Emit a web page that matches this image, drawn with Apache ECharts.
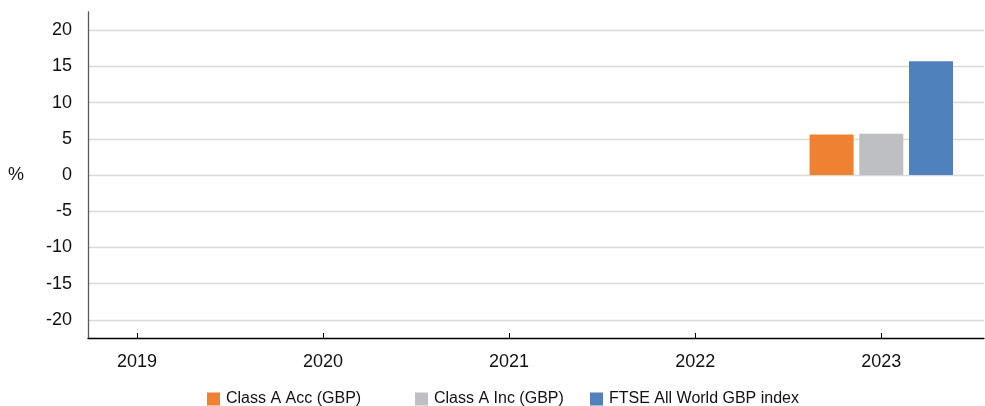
<!DOCTYPE html>
<html>
<head>
<meta charset="utf-8">
<script src="https://cdn.jsdelivr.net/npm/echarts@6/dist/echarts.min.js"></script>
<style>
  html, body { margin: 0; padding: 0; background: #ffffff; }
  #chart { width: 985px; height: 406px; }
</style>
</head>
<body>
<div id="chart"></div>
<script>
// Calendar years on the horizontal axis
const years = [2019, 2020, 2021, 2022, 2023];
// Annual performance, % (no figures before 2023)
const classAAcc = [null, null, null, null, 5.6];
const classAInc = [null, null, null, null, 5.7];
const ftseAllWorld = [null, null, null, null, 15.7];
// Tick labels on the percentage axis
const yTicks = [-20, -15, -10, -5, 0, 5, 10, 15, 20];

const seriesNames = ['Class A Acc (GBP)', 'Class A Inc (GBP)', 'FTSE All World GBP index'];
const seriesColors = ['#EF8231', '#BEBFC2', '#4F81BD'];
const seriesValues = [classAAcc, classAInc, ftseAllWorld];

const font = '"Liberation Sans", Arial, sans-serif';
const textColor = '#111111';

// one legend entry per series, laid out at its own column
const legendLeft = [207, 415, 590];

const chart = echarts.init(document.getElementById('chart'), null, { renderer: 'canvas' });

chart.setOption({
  animation: false,
  backgroundColor: '#ffffff',
  grid: { left: 88, right: 1, top: 12, bottom: 68, containLabel: false },
  legend: seriesNames.map((name, i) => ({
    top: 391,
    left: legendLeft[i],
    padding: 0,
    itemWidth: 13,
    itemHeight: 13,
    itemGap: 6,
    icon: 'rect',
    textStyle: { fontFamily: font, fontSize: 16, color: textColor, padding: [0, 0, 0, 1] },
    data: [name]
  })),
  xAxis: {
    type: 'value',
    min: years[0] - 0.263,
    max: years[years.length - 1] + 0.552,
    axisLine: { show: true, onZero: false, lineStyle: { color: '#000000', width: 1.3 } },
    axisTick: { show: true, inside: true, length: 5, customValues: years, lineStyle: { color: '#000000' } },
    axisLabel: {
      customValues: years,
      margin: 15,
      fontFamily: font, fontSize: 18, color: textColor,
      formatter: v => String(Math.round(v))
    },
    splitLine: { show: false }
  },
  yAxis: {
    type: 'value',
    min: -22.5,
    max: 22.5,
    name: '%',
    nameLocation: 'middle',
    nameRotate: 0,
    nameGap: 64,
    nameTextStyle: { fontFamily: font, fontSize: 18, color: textColor },
    axisLine: { show: true, lineStyle: { color: '#595959', width: 1.3 } },
    axisTick: { show: false, customValues: yTicks },
    axisLabel: { customValues: yTicks, margin: 16, fontFamily: font, fontSize: 18, color: textColor },
    splitLine: { show: true, lineStyle: { color: '#D9D9D9', width: 1.3 } }
  },
  series: seriesNames.map((name, i) => ({
    name,
    type: 'bar',
    barWidth: 44,
    barGap: '13%',
    itemStyle: { color: seriesColors[i] },
    data: years.map((y, k) => [y, seriesValues[i][k]])
  }))
});
</script>
</body>
</html>
